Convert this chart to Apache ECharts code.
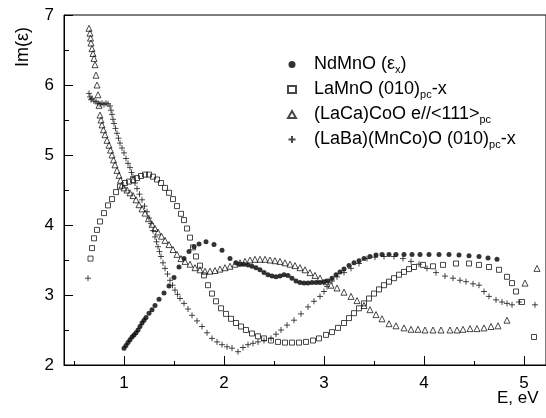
<!DOCTYPE html>
<html>
<head>
	<meta charset="utf-8" />
	<title>Im(e) spectra</title>
	<style type="text/css">
		html, body { margin: 0; padding: 0; background: #fff; }
		#main { width: 546px; height: 418px; }
	</style>
	<script src="https://cdn.jsdelivr.net/npm/echarts@6.0.0/dist/echarts.min.js"></script>
</head>
<body>
	<div id="main"></div>
	<script type="text/javascript">

		// series names (legend text is rich formatted below)
		const names = ['NdMnO', 'LaMnO', 'LaCaCoO', 'LaBaMnCoO'];

		// NdMnO (eps_x), filled circles
		const ndmno = [[1.00,2.24],[1.02,2.28],[1.04,2.32],[1.06,2.36],[1.08,2.40],[1.10,2.43],[1.12,2.46],[1.14,2.50],[1.16,2.55],[1.18,2.60],[1.20,2.64],[1.22,2.68],[1.25,2.74],[1.28,2.79],[1.31,2.85],[1.35,2.94],[1.40,3.03],[1.45,3.13],[1.50,3.25],[1.55,3.40],[1.60,3.52],[1.65,3.62],[1.70,3.69],[1.75,3.73],[1.82,3.76],[1.90,3.72],[1.98,3.64],[2.06,3.52],[2.12,3.46],[2.16,3.44],[2.20,3.44],[2.24,3.43],[2.28,3.41],[2.32,3.39],[2.36,3.36],[2.40,3.32],[2.44,3.29],[2.48,3.27],[2.52,3.26],[2.56,3.27],[2.60,3.29],[2.64,3.28],[2.68,3.24],[2.72,3.20],[2.76,3.18],[2.80,3.17],[2.84,3.17],[2.88,3.18],[2.92,3.18],[2.96,3.18],[3.00,3.19],[3.04,3.20],[3.08,3.24],[3.12,3.29],[3.16,3.33],[3.20,3.37],[3.25,3.42],[3.30,3.46],[3.35,3.49],[3.40,3.52],[3.46,3.55],[3.52,3.57],[3.58,3.58],[3.65,3.58],[3.72,3.58],[3.80,3.58],[3.88,3.58],[3.96,3.58],[4.05,3.58],[4.15,3.58],[4.25,3.58],[4.35,3.57],[4.45,3.56],[4.55,3.55],[4.64,3.53],[4.73,3.51]];

		// LaMnO (010)pc-x, open squares
		const lamno = [[0.665,3.52],[0.68,3.67],[0.70,3.81],[0.73,3.93],[0.76,4.05],[0.80,4.17],[0.84,4.28],[0.88,4.37],[0.92,4.47],[0.96,4.55],[1.01,4.60],[1.05,4.62],[1.09,4.64],[1.13,4.67],[1.17,4.70],[1.21,4.72],[1.25,4.72],[1.29,4.69],[1.33,4.65],[1.37,4.60],[1.41,4.53],[1.45,4.46],[1.49,4.37],[1.53,4.27],[1.57,4.16],[1.60,4.07],[1.63,3.95],[1.66,3.82],[1.69,3.68],[1.72,3.55],[1.76,3.42],[1.80,3.28],[1.84,3.14],[1.88,3.02],[1.92,2.91],[1.97,2.81],[2.02,2.73],[2.07,2.66],[2.12,2.60],[2.17,2.55],[2.22,2.50],[2.28,2.45],[2.34,2.41],[2.40,2.38],[2.47,2.35],[2.54,2.33],[2.61,2.32],[2.68,2.32],[2.75,2.32],[2.82,2.33],[2.89,2.35],[2.95,2.38],[3.02,2.43],[3.08,2.47],[3.14,2.53],[3.20,2.60],[3.25,2.67],[3.30,2.74],[3.35,2.81],[3.40,2.88],[3.45,2.95],[3.50,3.02],[3.55,3.08],[3.60,3.14],[3.65,3.19],[3.70,3.24],[3.75,3.29],[3.80,3.33],[3.85,3.37],[3.90,3.40],[3.99,3.43],[4.09,3.41],[4.19,3.43],[4.32,3.45],[4.45,3.45],[4.55,3.43],[4.65,3.40],[4.75,3.36],[4.83,3.26],[4.88,3.17],[4.92,3.05],[4.98,2.90],[5.10,2.40]];

		// (LaCa)CoO e//<111>pc, open triangles
		const lacacoo = [[0.65,6.81],[0.66,6.74],[0.665,6.67],[0.67,6.60],[0.68,6.52],[0.69,6.45],[0.70,6.38],[0.71,6.29],[0.72,6.14],[0.73,6.00],[0.74,5.86],[0.75,5.71],[0.76,5.57],[0.77,5.50],[0.78,5.43],[0.795,5.36],[0.81,5.29],[0.83,5.21],[0.85,5.14],[0.865,5.07],[0.88,5.00],[0.895,4.93],[0.91,4.86],[0.93,4.78],[0.95,4.71],[0.965,4.64],[0.98,4.57],[1.00,4.53],[1.03,4.50],[1.06,4.46],[1.09,4.42],[1.12,4.36],[1.15,4.29],[1.18,4.23],[1.21,4.17],[1.245,4.09],[1.28,4.01],[1.31,3.95],[1.34,3.90],[1.375,3.84],[1.41,3.78],[1.45,3.72],[1.49,3.65],[1.53,3.58],[1.57,3.52],[1.61,3.48],[1.66,3.44],[1.71,3.39],[1.76,3.36],[1.81,3.34],[1.86,3.34],[1.91,3.35],[1.96,3.37],[2.01,3.39],[2.06,3.41],[2.11,3.44],[2.16,3.46],[2.21,3.48],[2.26,3.50],[2.31,3.51],[2.36,3.51],[2.41,3.51],[2.46,3.50],[2.51,3.49],[2.56,3.48],[2.61,3.46],[2.66,3.44],[2.71,3.42],[2.76,3.39],[2.81,3.36],[2.86,3.32],[2.91,3.28],[2.96,3.24],[3.02,3.19],[3.07,3.14],[3.13,3.10],[3.20,3.04],[3.27,2.98],[3.33,2.92],[3.40,2.85],[3.46,2.79],[3.52,2.72],[3.58,2.66],[3.65,2.59],[3.72,2.56],[3.80,2.53],[3.87,2.51],[3.94,2.51],[4.01,2.50],[4.09,2.50],[4.17,2.50],[4.26,2.50],[4.33,2.50],[4.39,2.51],[4.46,2.52],[4.53,2.52],[4.60,2.53],[4.67,2.55],[4.74,2.56],[4.83,2.64],[5.01,3.17],[5.13,3.38]];

		// (LaBa)(MnCo)O (010)pc-x, plus signs
		const labamncoo = [[0.64,3.24],[0.65,5.88],[0.66,5.83],[0.67,5.79],[0.68,5.81],[0.70,5.77],[0.72,5.76],[0.74,5.74],[0.76,5.73],[0.78,5.74],[0.80,5.72],[0.82,5.74],[0.84,5.73],[0.86,5.70],[0.87,5.64],[0.88,5.58],[0.89,5.51],[0.90,5.45],[0.915,5.38],[0.93,5.31],[0.945,5.24],[0.96,5.17],[0.98,5.10],[1.00,5.03],[1.02,4.95],[1.04,4.88],[1.06,4.82],[1.075,4.75],[1.09,4.69],[1.11,4.60],[1.13,4.52],[1.155,4.44],[1.18,4.36],[1.205,4.27],[1.23,4.19],[1.25,4.10],[1.27,4.02],[1.29,3.92],[1.31,3.83],[1.325,3.76],[1.34,3.69],[1.355,3.62],[1.37,3.55],[1.39,3.46],[1.41,3.38],[1.435,3.30],[1.46,3.21],[1.485,3.14],[1.51,3.07],[1.535,3.01],[1.56,2.95],[1.60,2.88],[1.64,2.80],[1.68,2.71],[1.73,2.63],[1.78,2.55],[1.83,2.46],[1.88,2.38],[1.93,2.33],[1.98,2.29],[2.03,2.26],[2.08,2.24],[2.14,2.19],[2.19,2.25],[2.24,2.29],[2.29,2.31],[2.34,2.33],[2.40,2.35],[2.47,2.38],[2.52,2.44],[2.57,2.50],[2.63,2.57],[2.70,2.64],[2.77,2.73],[2.84,2.83],[2.90,2.91],[2.96,2.98],[3.00,3.05],[3.03,3.12],[3.08,3.20],[3.13,3.26],[3.20,3.32],[3.27,3.38],[3.35,3.45],[3.43,3.52],[3.51,3.54],[3.60,3.55],[3.70,3.55],[3.79,3.52],[3.87,3.48],[3.95,3.44],[4.03,3.38],[4.12,3.32],[4.21,3.27],[4.29,3.24],[4.36,3.21],[4.42,3.19],[4.49,3.16],[4.55,3.14],[4.60,3.05],[4.65,2.98],[4.72,2.93],[4.78,2.90],[4.83,2.88],[4.88,2.86],[4.95,2.90],[5.11,2.86]];

		// axis ticks / labels
		const xMajor = [1, 2, 3, 4, 5];
		const xMinor = [0.5, 1.5, 2.5, 3.5, 4.5];

		const legendText = {
			NdMnO: 'NdMnO (\u03b5{sub|x})',
			LaMnO: 'LaMnO (010){sub|pc}-x',
			LaCaCoO: '(LaCa)CoO e//<111>{sub|pc}',
			LaBaMnCoO: '(LaBa)(MnCo)O (010){sub|pc}-x'
		};

		const font = 'Arial, "Liberation Sans", Helvetica, sans-serif';
		const ink = '#1a1a1a';
		const plusPath = 'path://M0,5L10,5M5,0L5,10';

		const options = {
			animation: false,
			grid: {
				left: 64, top: 15, right: -5, bottom: 53,
				show: true, borderColor: '#000', borderWidth: 1
			},
			xAxis: [
				{
					type: 'value', min: 0.4, max: 5.22,
					axisLine: { lineStyle: { color: '#000', width: 1 } },
					splitLine: { show: false },
					axisTick: { inside: true, length: 9, customValues: xMajor, lineStyle: { color: '#000' } },
					axisLabel: { customValues: xMajor, margin: 10, color: '#000', fontSize: 17, fontFamily: font }
				},
				{
					type: 'value', min: 0.4, max: 5.22, position: 'bottom',
					axisLine: { show: false },
					splitLine: { show: false },
					axisTick: { inside: true, length: 4, customValues: xMinor, lineStyle: { color: '#000' } },
					axisLabel: { show: false }
				}
			],
			yAxis: {
				type: 'value', min: 2, max: 7, interval: 1,
				axisLine: { show: true, lineStyle: { color: '#000', width: 1 } },
				splitLine: { show: false },
				axisTick: { show: true, inside: true, length: 9, lineStyle: { color: '#000' } },
				minorTick: { show: true, splitNumber: 2, length: 5, lineStyle: { color: '#000' } },
				axisLabel: { margin: 10, color: '#000', fontSize: 17, fontFamily: font }
			},
			legend: {
				orient: 'vertical',
				left: 282, top: 49,
				itemWidth: 8, itemHeight: 7, itemGap: 4,
				symbolKeepAspect: true,
				data: names,
				formatter: function (n) { return legendText[n]; },
				textStyle: {
					color: '#000', fontSize: 18, fontFamily: font, lineHeight: 21,
					padding: [0, 0, 0, 13],
					rich: {
						sub: { fontSize: 11, fontFamily: font, color: '#000', padding: [10, 0, 0, 0] }
					}
				}
			},
			graphic: [
				{
					type: 'text', x: 14, y: 67, rotation: Math.PI / 2,
					style: { text: 'Im(\u03b5)', fontSize: 18, fontFamily: font, fill: '#000' }
				},
				{
					type: 'text', x: 497, y: 390,
					style: { text: 'E, eV', fontSize: 17, fontFamily: font, fill: '#000' }
				}
			],
			series: [
				{
					name: 'NdMnO', type: 'scatter', data: ndmno,
					symbol: 'circle', symbolSize: 5,
					itemStyle: { color: '#000' }
				},
				{
					name: 'LaMnO', type: 'scatter', data: lamno,
					symbol: 'rect', symbolSize: 5, symbolKeepAspect: true,
					itemStyle: { color: 'rgba(0,0,0,0)', borderColor: ink, borderWidth: 1 }
				},
				{
					name: 'LaCaCoO', type: 'scatter', data: lacacoo,
					symbol: 'triangle', symbolSize: 6, symbolKeepAspect: true,
					itemStyle: { color: 'rgba(0,0,0,0)', borderColor: ink, borderWidth: 1 }
				},
				{
					name: 'LaBaMnCoO', type: 'scatter', data: labamncoo,
					symbol: plusPath, symbolSize: 6, symbolKeepAspect: true,
					itemStyle: { color: 'rgba(0,0,0,0)', borderColor: ink, borderWidth: 1 }
				}
			]
		};

		const myChart = echarts.init(document.getElementById('main'));
		myChart.setOption(options);
	</script>
</body>
</html>
